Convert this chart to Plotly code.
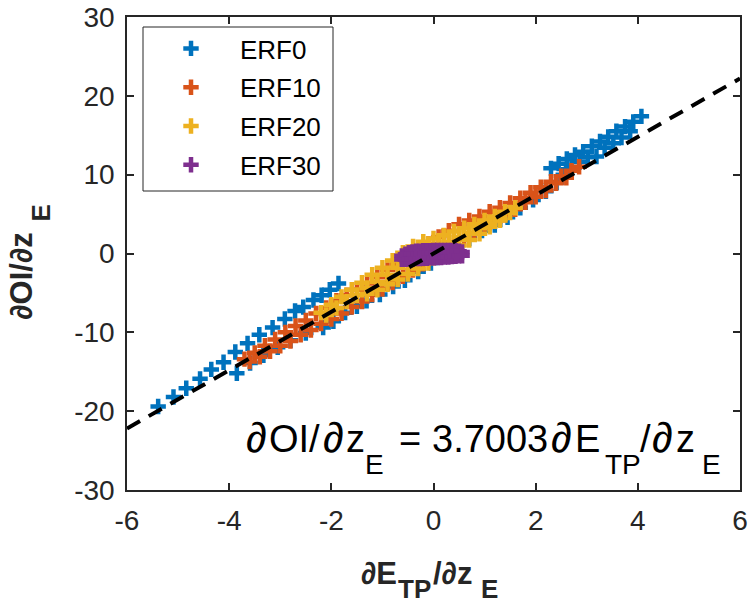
import plotly.graph_objects as go

# ---------------- data ----------------
erf0_x = [-5.39, -5.09, -4.84, -4.57, -4.35, -4.11, -3.88, -3.64, -3.41, -3.15, -2.91, -2.71,
          -2.55, -2.35, -2.19, -2.03, -1.86,
          -3.85, -3.59, -3.33, -3.05, -2.80, -2.50, -2.16, -1.96, -1.73, -1.50, -1.31, -1.05,
          -0.79, -0.56, -0.30, -0.05, 0.20, 0.45, 0.70, 0.95, 1.20, 1.45, 1.70, 1.95, 2.20,
          2.41, 2.54,
          2.30, 2.45, 2.61, 2.77, 2.93, 3.10, 3.26, 3.42, 3.58, 3.75, 3.91, 4.07,
          2.70, 2.86, 3.02, 3.19, 3.35, 3.52, 3.68, 3.85]
erf0_y = [-19.4, -18.2, -17.1, -15.9, -14.7, -13.8, -12.5, -11.4, -10.3, -9.4, -8.3, -7.3,
          -6.8, -5.9, -5.3, -4.6, -3.8,
          -15.2, -13.9, -12.9, -11.9, -11.0, -10.1, -9.4, -8.6, -7.5, -6.7, -6.0, -5.2,
          -4.2, -3.4, -2.3, -1.2, -0.2, 0.8, 1.9, 2.9, 3.6, 4.6, 5.8, 6.8, 7.9,
          9.0, 10.0,
          10.8, 11.4, 12.0, 12.5, 12.9, 13.6, 14.2, 14.8, 15.5, 16.1, 16.7, 17.4,
          10.9, 11.6, 12.2, 12.3, 13.4, 14.0, 14.7, 15.5]

erf10_x = [-3.7, -3.5, -3.3, -3.1, -2.9, -2.7, -2.5, -2.3, -2.1, -1.9, -1.7, -1.5, -1.3, -1.1,
           -0.9, -0.7, -0.5, -0.3, -0.1, 0.1, 0.3, 0.5, 0.7, 0.9, 1.1, 1.3, 1.5, 1.7, 1.9, 2.1,
           2.3, 2.5, 2.7, 2.85,
           -3.6, -3.4, -3.2, -3.0, -2.8, -2.6, -2.4, -2.2, -2.0, -1.8, -1.6, -1.4, -1.2, -1.0,
           -0.8, -0.6, -0.4, -0.2, 0.0, 0.2, 0.4, 0.6, 0.8, 1.0, 1.2, 1.4, 1.6, 1.8, 2.0, 2.2,
           2.4, 2.6]
erf10_y = [-13.4, -12.6, -11.7, -10.9, -10.0, -9.2, -8.5, -7.6, -6.9, -6.0, -5.3, -4.6, -3.8, -3.0,
           -2.1, -1.3, -0.5, 0.4, 1.2, 2.1, 2.9, 3.7, 4.2, 4.7, 5.3, 5.8, 6.4, 7.0, 7.7, 8.4,
           9.1, 9.8, 10.5, 11.0,
           -13.7, -13.1, -12.4, -11.7, -11.1, -10.3, -9.7, -8.9, -8.3, -7.6, -6.8, -6.1, -5.2, -4.5,
           -3.7, -2.9, -2.1, -1.3, -0.5, 0.2, 1.0, 1.8, 2.6, 3.3, 4.1, 4.9, 5.6, 6.5, 7.2, 8.0,
           8.9, 9.6]

erf20_x = [-2.2, -2.0, -1.8, -1.6, -1.4, -1.2, -1.0, -0.8, -0.6, -0.4, -0.2, 0.0, 0.2, 0.4, 0.6,
           0.8, 1.0, 1.2, 1.4, 1.6,
           -2.1, -1.9, -1.7, -1.5, -1.3, -1.1, -0.9, -0.7, -0.5, -0.3, -0.1, 0.1, 0.3, 0.5, 0.7,
           0.9, 1.1, 1.3, 1.5,
           -1.3, -1.1, -0.9, -0.7, -0.5, -0.3, -0.1, 0.1, 0.3, 0.5, 0.7, 0.9, 1.1, 1.3]
erf20_y = [-7.5, -6.5, -5.5, -4.6, -3.7, -2.7, -1.8, -0.9, 0.1, 0.9, 1.5, 1.9, 2.3, 2.8, 3.2,
           3.7, 4.2, 4.7, 5.3, 5.8,
           -7.8, -6.9, -6.1, -5.3, -4.4, -3.6, -2.7, -1.8, -1.0, -0.2, 0.4, 1.0, 1.5, 2.1, 2.6,
           3.2, 3.8, 4.4, 5.2,
           -5.1, -4.6, -3.9, -3.3, -2.6, -1.9, -1.2, -0.4, 0.2, 1.0, 1.7, 2.5, 3.4, 4.2]

erf30_x = [-0.62, -0.55, -0.48, -0.41, -0.34, -0.27, -0.20, -0.13, -0.06, 0.01, 0.08, 0.15,
           0.22, 0.29, 0.36, 0.43, 0.50, 0.56,
           -0.62, -0.55, -0.48, -0.41, -0.34, -0.27, -0.20, -0.13, -0.06, 0.01, 0.08, 0.15,
           0.22, 0.29, 0.36, 0.43, 0.50, 0.56]
erf30_y = [-0.3, -0.1, 0.1, 0.2, 0.3, 0.3, 0.35, 0.35, 0.35, 0.4, 0.4, 0.4,
           0.4, 0.4, 0.4, 0.35, 0.3, 0.2,
           -0.75, -0.75, -0.7, -0.7, -0.65, -0.65, -0.6, -0.6, -0.55, -0.55, -0.5, -0.5,
           -0.45, -0.45, -0.4, -0.35, -0.3, -0.3]

series_names = ["ERF0", "ERF10", "ERF20", "ERF30"]
series_colors = ["#0072BD", "#D95319", "#EDB120", "#7E2F8E"]

fit_slope = 3.7003
fit_x = [-6, 6]

x_ticks = [-6, -4, -2, 0, 2, 4, 6]
x_ticktext = ["-6", "-4", "-2", "0", "2", "4", "6"]
y_ticks = [-30, -20, -10, 0, 10, 20, 30]
y_ticktext = ["-30", "-20", "-10", "0", "10", "20", "30"]

# ---------------- figure ----------------
W, H = 751, 604
L, R, T, B = 127, 11, 17, 114
PW, PH = W - L - R, H - T - B
FONT = "Liberation Sans, Arial, sans-serif"
AXC = "#262626"


def px_x(px):
    return (px - L) / PW


def px_y(py):
    return (H - B - py) / PH


fig = go.Figure()
all_x = [erf0_x, erf10_x, erf20_x, erf30_x]
all_y = [erf0_y, erf10_y, erf20_y, erf30_y]
for name, col, xs, ys in zip(series_names, series_colors, all_x, all_y):
    fig.add_trace(go.Scatter(
        x=xs, y=ys, mode="markers", name="\u00a0\u00a0\u00a0\u00a0" + name,
        legendgroup=name,
        marker=dict(symbol="cross-thin", size=11, color=col,
                    line=dict(width=4.5, color=col)),
    ))

fig.add_trace(go.Scatter(
    x=fit_x, y=[fit_slope * v for v in fit_x], mode="lines", showlegend=False,
    line=dict(color="black", width=4, dash="15px,10px"),
))

axis_common = dict(
    showgrid=False, zeroline=False, showline=True, linecolor=AXC, linewidth=1.5,
    mirror="ticks", ticks="inside", ticklen=7, tickwidth=1.5, tickcolor=AXC,
    tickfont=dict(family=FONT, size=28, color=AXC), automargin=False,
    ticklabelstandoff=5,
)
fig.update_xaxes(range=[-6, 6], tickvals=x_ticks, ticktext=x_ticktext, **axis_common)
fig.update_yaxes(range=[-30, 30], tickvals=y_ticks, ticktext=y_ticktext, **axis_common)

annotations = []


def piece(text, px, base_py, size, bold=False, color="black", angle=0, anchor_py=None):
    t = "<b>" + text + "</b>" if bold else text
    if angle == 0:
        cy = base_py - 0.3465 * size
        annotations.append(dict(
            text=t, x=px_x(px), y=px_y(cy), xref="paper", yref="paper",
            xanchor="left", yanchor="middle", showarrow=False,
            font=dict(family=FONT, size=size, color=color), borderpad=0,
        ))
    else:
        cx = base_py - 0.3465 * size  # base_py is baseline x for rotated text
        annotations.append(dict(
            text=t, x=px_x(cx), y=px_y(anchor_py), xref="paper", yref="paper",
            xanchor="center", yanchor="bottom", showarrow=False, textangle=-90,
            font=dict(family=FONT, size=size, color=color), borderpad=0,
        ))


# equation (pieces placed to follow the reference glyph positions)
EQ_M, EQ_S, EQ_D = 38, 28, 42
EQ_BASE, EQ_SUB = 452, 474
for txt, xpos, kind in [("∂", 245, "d"), ("OI/", 268, "m"), ("∂", 322, "d"),
                        ("z", 345, "m"), ("E", 364, "s"), ("=", 398, "m"),
                        ("3.7003", 431, "m"), ("∂", 550, "d"), ("E", 574, "m"),
                        ("TP", 604, "s"), ("/", 639, "m"), ("∂", 651, "d"),
                        ("z", 675, "m"), ("E", 701, "s")]:
    size = {"m": EQ_M, "s": EQ_S, "d": EQ_D}[kind]
    base = EQ_SUB if kind == "s" else EQ_BASE
    piece(txt, xpos, base, size)

# x-axis title
XT_M, XT_S = 31, 26
piece("∂E", 360, 584, XT_M, bold=True, color=AXC)
piece("TP", 397, 598, XT_S, bold=True, color=AXC)
piece("/∂z", 432, 584, XT_M, bold=True, color=AXC)
piece("E", 480, 598, XT_S, bold=True, color=AXC)

# y-axis title (rotated)
piece("∂OI/∂z", 0, 32, XT_M, bold=True, color=AXC, angle=-90, anchor_py=321)
piece("E", 0, 50, XT_S, bold=True, color=AXC, angle=-90, anchor_py=222)

fig.update_layout(
    width=W, height=H, margin=dict(l=L, r=R, t=T, b=B, autoexpand=False),
    paper_bgcolor="white", plot_bgcolor="white",
    font=dict(family=FONT, color=AXC),
    annotations=annotations,
    legend=dict(x=px_x(171), y=px_y(25), xanchor="left", yanchor="top",
                bgcolor="rgba(0,0,0,0)", borderwidth=0, tracegroupgap=2,
                font=dict(family=FONT, size=26, color="black")),
    shapes=[dict(type="rect", xref="paper", yref="paper",
                 x0=px_x(143), x1=px_x(333), y0=px_y(191), y1=px_y(27),
                 line=dict(color=AXC, width=1), fillcolor="white", layer="above")],
)

fig.write_html("out.html", config={"displayModeBar": False},
               post_script="document.body.style.margin='0px';")
